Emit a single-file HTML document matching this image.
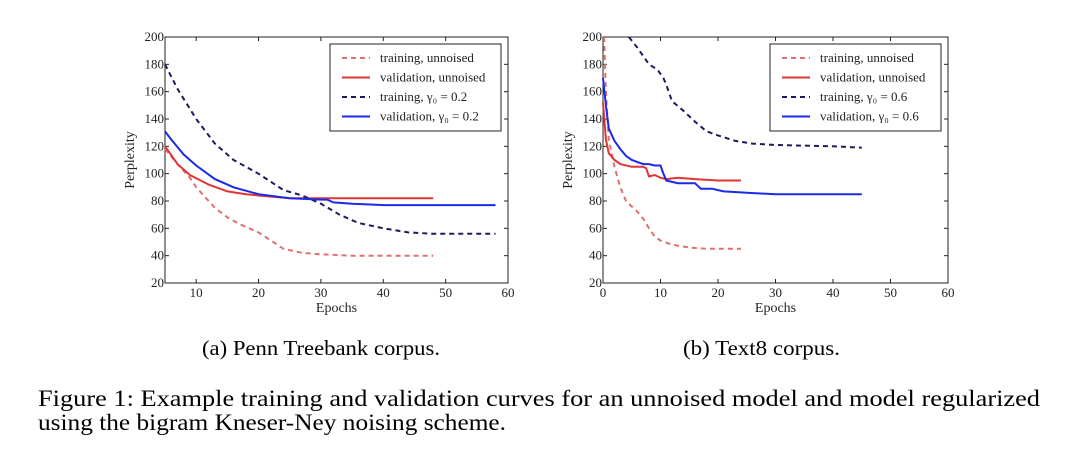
<!DOCTYPE html>
<html><head><meta charset="utf-8">
<style>
html,body{margin:0;padding:0;background:#fff;}
svg{display:block;font-family:"Liberation Serif",serif;}
</style></head>
<body>
<svg id="fig" width="1080" height="468" viewBox="0 0 1080 468" xmlns="http://www.w3.org/2000/svg">
<g id="chartA"></g>
<g id="chartB"></g>
<text x="202" y="355" font-size="21" textLength="238" lengthAdjust="spacingAndGlyphs">(a) Penn Treebank corpus.</text>
<text x="683" y="355" font-size="21" textLength="157" lengthAdjust="spacingAndGlyphs">(b) Text8 corpus.</text>
<text x="38" y="406" font-size="23" textLength="1002" lengthAdjust="spacingAndGlyphs">Figure 1:  Example training and validation curves for an unnoised model and model regularized</text>
<text x="38" y="430" font-size="23" textLength="468" lengthAdjust="spacingAndGlyphs">using the bigram Kneser-Ney noising scheme.</text>
</svg>
<script>
// Chart A: Penn Treebank
const aTrainUnX=[5,7,9,10,13,15,17,20,22,24,27,30,35,40,48];
const aTrainUnY=[118,107,97,90,75,68,63,57,51,45,42,41,40,40,40];
const aValUnX=[5,7,9,12,15,18,20,25,30,40,48];
const aValUnY=[120,107,99,92,87,85,84,82,82,82,82];
const aTrainNX=[5,7,10,13,16,20,24,27,30,33,36,40,44,48,58];
const aTrainNY=[180,162,140,122,110,100,88,84,78,70,64,60,57,56,56];
const aValNX=[5,6,8,10,13,16,20,25,30,31,32,35,40,50,58];
const aValNY=[131,125,114,106,96,90,85,82,81,81,79,78,77,77,77];
const aXTicks=[10,20,30,40,50,60];
// Chart B: Text8
const bTrainUnX=[0.2,0.5,1,2,3,4,5,6,7,8,9,10,12,15,18,20,24];
const bTrainUnY=[200,160,125,105,90,80,76,72,67,60,54,51,48,46,45,45,45];
const bValUnX=[0,0.5,1,2,3,5,7,7.5,8,9,10,11,13,16,20,24];
const bValUnY=[152,125,115,110,107,105,105,104,98,99,97,96,97,96,95,95];
const bTrainNX=[4.5,6,8,9.5,10.5,11,12,14,16,18,20,23,26,30,40,45];
const bTrainNY=[200,192,180,176,170,165,153,146,138,131,128,124,122,121,120,119];
const bValNX=[0,0.5,1,2,3,4,5,7,8,9,10,10.5,11,13,16,17,19,20,21,25,30,45];
const bValNY=[170,150,133,124,118,113,110,107,107,106,106,100,95,93,93,89,89,88,87,86,85,85];
const bXTicks=[0,10,20,30,40,50,60];
const yTicks=[20,40,60,80,100,120,140,160,180,200];

const NS="http://www.w3.org/2000/svg";
function mk(p,tag,attrs){const e=document.createElementNS(NS,tag);for(const k in attrs)e.setAttribute(k,attrs[k]);p.appendChild(e);return e;}

function draw(gid,x0,x1,xmin,xmax,xticks,series,legendLabels,lx){
  const g=document.getElementById(gid);
  const y0=37,y1=283,ymin=20,ymax=200;
  const sx=v=>x0+(v-xmin)/(xmax-xmin)*(x1-x0);
  const sy=v=>y1-(v-ymin)/(ymax-ymin)*(y1-y0);
  const frame=mk(g,'rect',{x:x0,y:y0,width:x1-x0,height:y1-y0,fill:'none',stroke:'#222','stroke-width':1});
  
  
  yTicks.forEach(t=>{
    const y=sy(t);
    mk(g,'line',{x1:x0,x2:x0+4,y1:y,y2:y,stroke:'#222'});
    mk(g,'line',{x1:x1,x2:x1-4,y1:y,y2:y,stroke:'#222'});
    const tx=mk(g,'text',{x:x0-1,y:y+4,'font-size':13,'text-anchor':'end',fill:'#222'});
    tx.textContent=t;
    
    
  });
  xticks.forEach(t=>{
    const x=sx(t);
    mk(g,'line',{x1:x,x2:x,y1:y1,y2:y1-4,stroke:'#222'});
    mk(g,'line',{x1:x,x2:x,y1:y0,y2:y0+4,stroke:'#222'});
    const tx=mk(g,'text',{x:x,y:y1+14,'font-size':13,'text-anchor':'middle',fill:'#222'});
    tx.textContent=t;
    
    
  });
  const xl=mk(g,'text',{x:(x0+x1)/2,y:y1+29,'font-size':14,'text-anchor':'middle',fill:'#222'});
  xl.textContent='Epochs';
  
  
  const yl=mk(g,'text',{x:0,y:0,'font-size':14,'text-anchor':'middle',fill:'#222',transform:`translate(${x0-31},${(y0+y1)/2}) rotate(-90)`});
  yl.textContent='Perplexity';
  
  
  series.forEach(s=>{
    const d=s.xs.map((v,i)=>(i?'L':'M')+sx(v).toFixed(1)+' '+sy(s.ys[i]).toFixed(1)).join(' ');
    const p=mk(g,'path',{d:d,fill:'none',stroke:s.c,'stroke-width':2,'stroke-dasharray':s.dash||'none'});
    
    
  });
  const lg=mk(g,'g',{});
  
  
  mk(lg,'rect',{x:lx,y:44,width:171,height:87,fill:'#fff',stroke:'#222'});
  series.forEach((s,i)=>{
    const y=58+i*19.5;
    mk(lg,'line',{x1:lx+12,x2:lx+40,y1:y,y2:y,stroke:s.c,'stroke-width':2,'stroke-dasharray':s.dash||'none'});
    const t=mk(lg,'text',{x:lx+50,y:y+4,'font-size':13,fill:'#222'});
    t.textContent=legendLabels[i];
    
    
  });
}
const RD='#e07070',R='#e03535',BD='#1c1c5c',B='#1a2ae8';
draw('chartA',165,508,5,60,aXTicks,[
 {xs:aTrainUnX,ys:aTrainUnY,c:RD,dash:'5 4',name:'training-unnoised-line'},
 {xs:aValUnX,ys:aValUnY,c:R,name:'validation-unnoised-line'},
 {xs:aTrainNX,ys:aTrainNY,c:BD,dash:'5 4',name:'training-noised-line'},
 {xs:aValNX,ys:aValNY,c:B,name:'validation-noised-line'}],
 ['training, unnoised','validation, unnoised','training, γ\u2080 = 0.2','validation, γ\u2080 = 0.2'],330);
draw('chartB',603,948,0,60,bXTicks,[
 {xs:bTrainUnX,ys:bTrainUnY,c:RD,dash:'5 4',name:'training-unnoised-line'},
 {xs:bValUnX,ys:bValUnY,c:R,name:'validation-unnoised-line'},
 {xs:bTrainNX,ys:bTrainNY,c:BD,dash:'5 4',name:'training-noised-line'},
 {xs:bValNX,ys:bValNY,c:B,name:'validation-noised-line'}],
 ['training, unnoised','validation, unnoised','training, γ\u2080 = 0.6','validation, γ\u2080 = 0.6'],770);
</script>
</body></html>
